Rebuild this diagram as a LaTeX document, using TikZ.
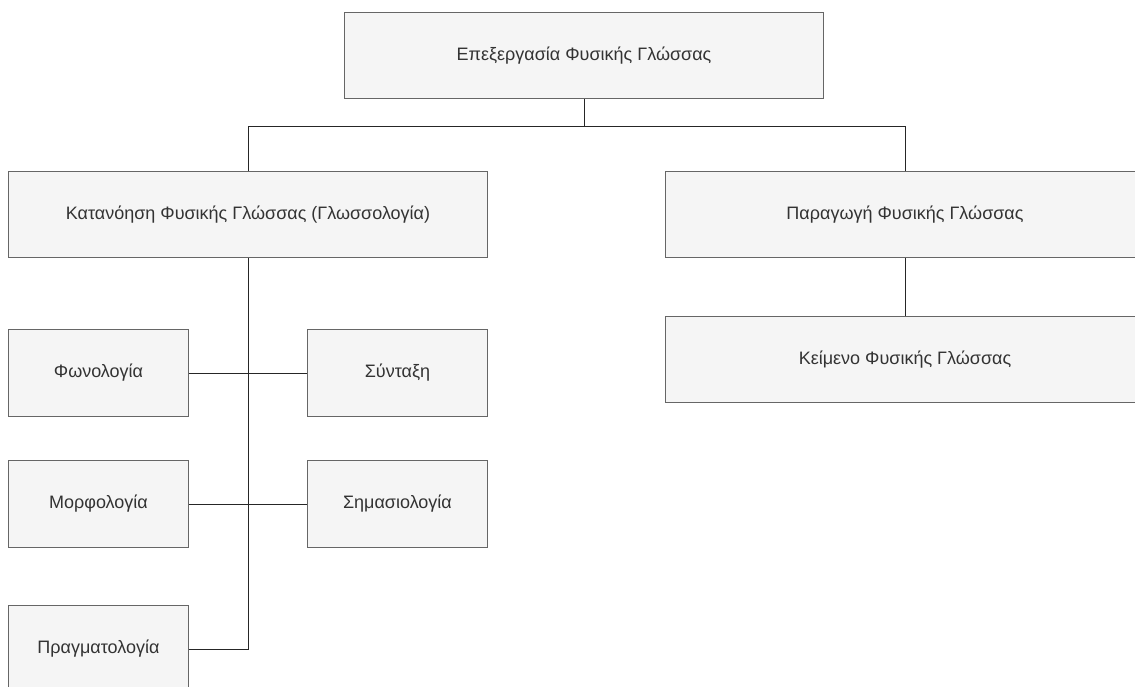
\documentclass[tikz,border=0pt]{standalone}
\usepackage{fontspec}
\setmainfont{Liberation Sans}
\definecolor{boxfill}{HTML}{F5F5F5}
\definecolor{boxline}{HTML}{666666}
\definecolor{boxtext}{HTML}{333333}
\begin{document}
\begin{tikzpicture}[x=1pt,y=-1pt,
  box/.style={draw=boxline,fill=boxfill,line width=1pt,text=boxtext,
    font=\fontsize{18}{21}\selectfont,inner sep=0pt,anchor=north west},
  wide/.style={box,minimum width=479pt,minimum height=86pt},
  small/.style={box,minimum width=180pt,minimum height=87pt},
  link/.style={draw=black!85,line width=1pt}]
\useasboundingbox (0,0) rectangle (1135,686);
\clip (0,0) rectangle (1135,686);
\fill[white] (0,0) rectangle (1135,686);

% top level
\node[wide] (nlp) at (344,12) {Επεξεργασία Φυσικής Γλώσσας};

% second level
\node[wide] (nlu) at (8,171) {Κατανόηση Φυσικής Γλώσσας (Γλωσσολογία)};
\node[wide] (nlg) at (665,171) {Παραγωγή Φυσικής Γλώσσας};
\node[wide] (txt) at (665,316) {Κείμενο Φυσικής Γλώσσας};

% linguistics branches
\node[small] (phon) at (8,329) {Φωνολογία};
\node[small] (synt) at (307,329) {Σύνταξη};
\node[small] (morph) at (8,460) {Μορφολογία};
\node[small] (sem) at (307,460) {Σημασιολογία};
\node[small] (prag) at (8,605) {Πραγματολογία};

% tree connectors
\coordinate (split) at (584,126);
\draw[link] (nlp.south) -- (split);
\draw[link] (nlu.north) |- (split);
\draw[link] (nlg.north) |- (split);
\draw[link] (nlg.south) -- (txt.north);

\coordinate (trunk) at (nlu.south);
\draw[link] (trunk) |- (prag.east);
\draw[link] (phon.east) -- (synt.west);
\draw[link] (morph.east) -- (sem.west);
\end{tikzpicture}
\end{document}
